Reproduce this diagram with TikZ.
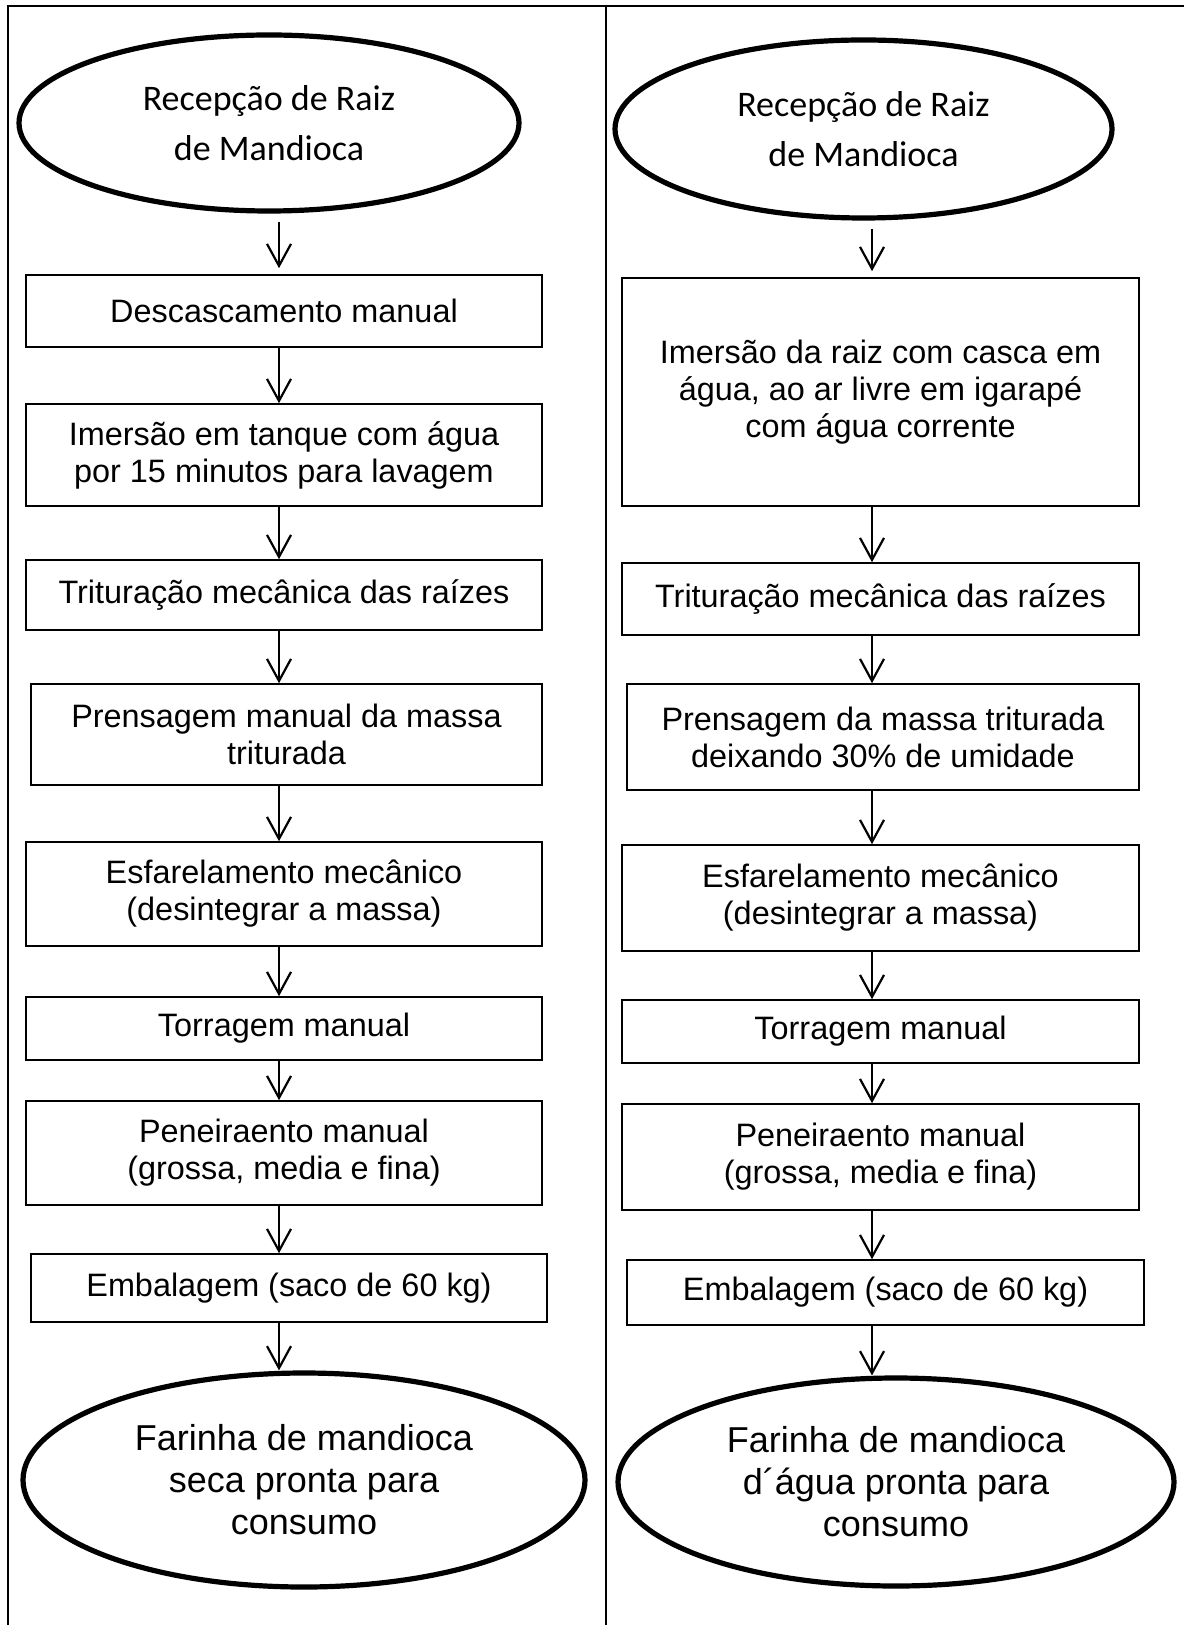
\documentclass[tikz,border=0pt]{standalone}
\usepackage{fontspec}
\setmainfont{Liberation Sans}
\newfontfamily\carlito{Carlito}
\usetikzlibrary{arrows.meta,shapes.geometric}
\newcommand{\fonteinicio}{\carlito\fontsize{18}{25}\selectfont}
\newcommand{\fontefim}{\fontsize{18}{21}\selectfont}
\tikzset{
  etapa/.style={draw, line width=0.8pt, rectangle, inner sep=0pt, align=center,
    font=\fontsize{16.2}{18.5}\selectfont},
  terminal/.style={draw, line width=2.6pt, ellipse, inner sep=0pt, align=center},
  fluxo/.style={line width=1.1pt, -{Straight Barb[length=11pt,width=12pt]}},
}

\begin{document}
\begin{tikzpicture}[x=0.5pt,y=-0.5pt]
	%%%%% START %%%%%
	\useasboundingbox (0,0) rectangle (1184,1625);
	
	\draw[line width=1pt] (8,1625) -- (8,6) -- (1184,6);
	\draw[line width=1pt] (606,6) -- (606,1625);
	
	\coordinate (colL) at (279,0);
	\coordinate (colR) at (872,0);
	
	% farinha seca
	\node[terminal, minimum width=250pt, minimum height=88pt, font=\fonteinicio] (linicio) at (269,123) {Recepção de Raiz\\de Mandioca};
	\node[etapa, minimum width=258pt, minimum height=36pt] (l1) at (284,311) {Descascamento manual};
	\node[etapa, minimum width=258pt, minimum height=51pt] (l2) at (284,455) {Imersão em tanque com água\\por 15 minutos para lavagem};
	\node[etapa, minimum width=258pt, minimum height=35pt] (l3) at (284,595) {Trituração mecânica das raízes};
	\node[etapa, minimum width=255.5pt, minimum height=50.5pt] (l4) at (286.5,734.5) {Prensagem manual da massa\\triturada};
	\node[etapa, minimum width=258pt, minimum height=52pt] (l5) at (284,894) {Esfarelamento mecânico\\(desintegrar a massa)};
	\node[etapa, minimum width=258pt, minimum height=31.5pt] (l6) at (284,1028.5) {Torragem manual};
	\node[etapa, minimum width=258pt, minimum height=52pt] (l7) at (284,1153) {Peneiraento manual\\(grossa, media e fina)};
	\node[etapa, minimum width=258pt, minimum height=34pt] (l8) at (289,1288) {Embalagem (saco de 60 kg)};
	\node[terminal, minimum width=281pt, minimum height=107pt, font=\fontefim] (lfim) at (304,1480) {Farinha de mandioca\\seca pronta para\\consumo};
	
	\draw[fluxo, shorten <=4pt, shorten >=3pt] (linicio.south -| colL) -- (l1.north -| colL);
	\draw[fluxo] (l1.south -| colL) -- (l2.north -| colL);
	\draw[fluxo] (l2.south -| colL) -- (l3.north -| colL);
	\draw[fluxo] (l3.south -| colL) -- (l4.north -| colL);
	\draw[fluxo] (l4.south -| colL) -- (l5.north -| colL);
	\draw[fluxo] (l5.south -| colL) -- (l6.north -| colL);
	\draw[fluxo] (l6.south -| colL) -- (l7.north -| colL);
	\draw[fluxo] (l7.south -| colL) -- (l8.north -| colL);
	\draw[fluxo] (l8.south -| colL) -- (lfim.north -| colL);
	
	% farinha d'agua
	\node[terminal, minimum width=248.5pt, minimum height=89pt, font=\fonteinicio] (rinicio) at (863.5,129) {Recepção de Raiz\\de Mandioca};
	\node[etapa, minimum width=258.5pt, minimum height=114pt] (r1) at (880.5,392) {Imersão da raiz com casca em\\água, ao ar livre em igarapé\\com água corrente};
	\node[etapa, minimum width=258.5pt, minimum height=36pt] (r2) at (880.5,599) {Trituração mecânica das raízes};
	\node[etapa, minimum width=256pt, minimum height=53pt] (r3) at (883,737) {Prensagem da massa triturada\\deixando 30\% de umidade};
	\node[etapa, minimum width=258.5pt, minimum height=53pt] (r4) at (880.5,898) {Esfarelamento mecânico\\(desintegrar a massa)};
	\node[etapa, minimum width=258.5pt, minimum height=31.5pt] (r5) at (880.5,1031.5) {Torragem manual};
	\node[etapa, minimum width=258.5pt, minimum height=53pt] (r6) at (880.5,1157) {Peneiraento manual\\(grossa, media e fina)};
	\node[etapa, minimum width=258.5pt, minimum height=32.5pt] (r7) at (885.5,1292.5) {Embalagem (saco de 60 kg)};
	\node[terminal, minimum width=278pt, minimum height=104pt, font=\fontefim] (rfim) at (896,1482) {Farinha de mandioca\\d´água pronta para\\consumo};
	
	\draw[fluxo, shorten <=4pt, shorten >=3pt] (rinicio.south -| colR) -- (r1.north -| colR);
	\draw[fluxo] (r1.south -| colR) -- (r2.north -| colR);
	\draw[fluxo] (r2.south -| colR) -- (r3.north -| colR);
	\draw[fluxo] (r3.south -| colR) -- (r4.north -| colR);
	\draw[fluxo] (r4.south -| colR) -- (r5.north -| colR);
	\draw[fluxo] (r5.south -| colR) -- (r6.north -| colR);
	\draw[fluxo] (r6.south -| colR) -- (r7.north -| colR);
	\draw[fluxo] (r7.south -| colR) -- (rfim.north -| colR);
	
	%%%%% END %%%%%
\end{tikzpicture}
\end{document}
